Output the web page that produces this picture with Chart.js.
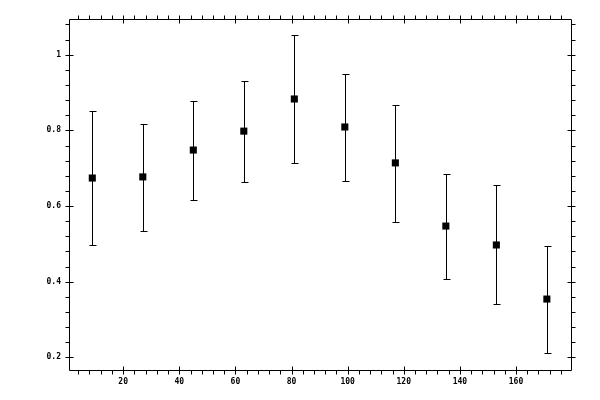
<!DOCTYPE html>
<html>
<head>
<meta charset="utf-8">
<script src="https://cdn.jsdelivr.net/npm/chart.js@4/dist/chart.umd.min.js"></script>
<style>
  html, body { margin: 0; padding: 0; background: #fff; }
</style>
</head>
<body>
<canvas id="chart" width="600" height="400"></canvas>
<script>
// bin centres and measured values with their error bar ends
const xValues = [9, 27, 45, 63, 81, 99, 117, 135, 153, 171];
const yValues = [0.674, 0.677, 0.748, 0.798, 0.883, 0.809, 0.714, 0.547, 0.497, 0.354];
const yHigh = [0.851, 0.817, 0.878, 0.930, 1.052, 0.950, 0.866, 0.684, 0.656, 0.495];
const yLow = [0.497, 0.534, 0.616, 0.664, 0.714, 0.666, 0.558, 0.407, 0.341, 0.211];

const xMajor = [20, 40, 60, 80, 100, 120, 140, 160];
const yMajor = [0.2, 0.4, 0.6, 0.8, 1.0];

function range(a, b, step) {
    const out = [];
    for (let v = a; v <= b + 1e-9; v += step) out.push(+v.toFixed(4));
    return out;
}
const xMinor = range(4, 176, 4);
const yMinor = range(0.2, 1.08, 0.04);

const frame = {
    id: "frame",
    beforeDatasetsDraw(chart) {
        const ctx = chart.ctx;
        const xs = chart.scales.x, ys = chart.scales.y;
        ctx.save();
        ctx.strokeStyle = "#000";
        ctx.lineWidth = 1;
        ctx.beginPath();
        xValues.forEach((x, i) => {
            const px = Math.round(xs.getPixelForValue(x)) + 0.5;
            const top = Math.round(ys.getPixelForValue(yHigh[i])) + 0.5;
            const bot = Math.round(ys.getPixelForValue(yLow[i])) + 0.5;
            ctx.moveTo(px, top); ctx.lineTo(px, bot);
            ctx.moveTo(px - 3, top); ctx.lineTo(px + 4, top);
            ctx.moveTo(px - 3, bot); ctx.lineTo(px + 4, bot);
        });
        ctx.stroke();
        ctx.restore();
    },
    afterDraw(chart) {
        const ctx = chart.ctx;
        const a = chart.chartArea;
        const xs = chart.scales.x, ys = chart.scales.y;
        const L = a.left + 0.5, R = a.right + 0.5, T = a.top + 0.5, B = a.bottom + 0.5;
        ctx.save();
        ctx.strokeStyle = "#000";
        ctx.lineWidth = 1;
        ctx.beginPath();
        ctx.rect(L, T, R - L, B - T);
        xMinor.forEach(v => {
            const p = Math.round(xs.getPixelForValue(v)) + 0.5;
            const major = xMajor.includes(v);
            ctx.moveTo(p, B + 4); ctx.lineTo(p, major ? B - 4 : B);
            ctx.moveTo(p, T - 4); ctx.lineTo(p, major ? T + 4 : T);
        });
        yMinor.forEach(v => {
            const p = Math.round(ys.getPixelForValue(v)) + 0.5;
            const major = yMajor.some(m => Math.abs(m - v) < 1e-6);
            ctx.moveTo(L - 4, p); ctx.lineTo(major ? L + 4 : L, p);
            ctx.moveTo(R + 4, p); ctx.lineTo(major ? R - 4 : R, p);
        });
        ctx.stroke();
        ctx.restore();
    }
};

const tickFont = { family: "DejaVu Sans Mono", size: 8, weight: "bold" };

new Chart(document.getElementById("chart"), {
    type: "scatter",
    data: {
        datasets: [{
            data: xValues.map((x, i) => ({ x: x, y: yValues[i] })),
            pointStyle: "rect",
            pointRadius: 5,
            pointHoverRadius: 5,
            pointBorderWidth: 0,
            backgroundColor: "#000",
            borderColor: "#000"
        }]
    },
    options: {
        responsive: false,
        animation: false,
        devicePixelRatio: 1,
        layout: { padding: { top: 19, right: 29, bottom: 0, left: 0 } },
        plugins: { legend: { display: false }, tooltip: { enabled: false } },
        scales: {
            x: {
                type: "linear",
                min: 0.7,
                max: 179.6,
                afterFit: s => { s.height = 30; },
                grid: { display: false, drawTicks: false },
                border: { display: false },
                ticks: { stepSize: 20, includeBounds: false, color: "#000", font: tickFont, padding: 7, maxRotation: 0 }
            },
            y: {
                type: "linear",
                min: 0.1664,
                max: 1.0945,
                afterFit: s => { s.width = 69; },
                grid: { display: false, drawTicks: false },
                border: { display: false },
                ticks: {
                    stepSize: 0.2, includeBounds: false, color: "#000", font: tickFont, padding: 8,
                    callback: v => String(+v.toFixed(1))
                }
            }
        }
    },
    plugins: [frame]
});
</script>
</body>
</html>
